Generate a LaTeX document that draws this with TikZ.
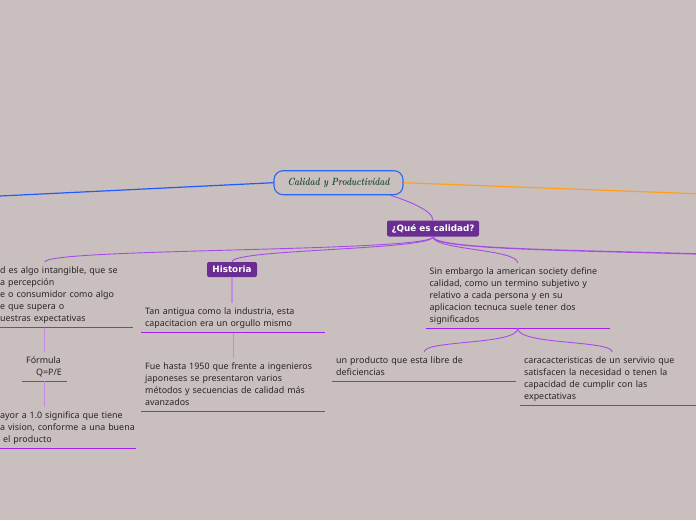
\documentclass[tikz,border=0pt]{standalone}
\usepackage{fontspec}
\setmainfont{Noto Sans}
\newfontfamily\rootfont{Latin Modern Roman}
\newfontfamily\tagfont{DejaVu Sans}
\definecolor{bgc}{HTML}{C9BFBF}
\definecolor{qpurple}{HTML}{6A2D91}
\definecolor{brc}{HTML}{A64CE6}
\definecolor{ulc}{HTML}{A020F0}
\definecolor{vtc}{HTML}{C48AE4}
\definecolor{rootblue}{HTML}{2A66F0}
\definecolor{bluel}{HTML}{1F5BFF}
\definecolor{orl}{HTML}{FF9F1A}
\definecolor{rtxt}{HTML}{1F4A2F}
\definecolor{txtc}{HTML}{2A2626}
\tikzset{
  txt/.style={anchor=north west, align=left, inner xsep=4pt, inner ysep=2.5pt,
    font=\fontsize{8.9}{12}\selectfont, text=txtc,
    execute at begin node=\strut, execute at end node=\strut},
  tag/.style={fill=qpurple, rounded corners=2pt, text=white, inner sep=0pt,
    font=\tagfont\fontsize{8.8}{10}\selectfont\bfseries},
  rootbox/.style={draw=rootblue, line width=1.1pt, rounded corners=9pt, inner sep=0pt,
    minimum width=129pt, minimum height=24pt, text=rtxt,
    font=\rootfont\fontsize{10.5}{12}\selectfont\bfseries\itshape},
  brl/.style={draw=brc, line width=0.9pt},
  vtl/.style={draw=vtc, line width=1.3pt},
  ull/.style={draw=ulc, line width=1.6pt},
}
\begin{document}
\begin{tikzpicture}[x=1pt,y=-1pt]
\fill[bgc] (0,0) rectangle (696,520);
\useasboundingbox (0,0) rectangle (696,520);

% nodes
\node[rootbox] (root) at (338.5,182.7) {\scalebox{0.8}[1]{Calidad y Productividad}};
\node[tag, minimum width=92pt, minimum height=16pt] (Q) at (433,228.5) {¿Qué es calidad?};
\node[tag, minimum width=50pt, minimum height=15pt] (H) at (232,269.5) {Historia};

\node[txt, text width=129pt] (L1) at (-4,262.1) {d es algo intangible, que se\\a percepción\\e o consumidor como algo\\e que supera o\\uestras expectativas};
\node[txt, text width=37pt] (F) at (22,352) {Fórmula\\\hspace*{10pt}Q=P/E};
\node[txt, text width=132pt] (L3) at (-4,407) {\mbox{ayor a 1.0 significa que tiene}\\\mbox{a vision, conforme a una buena}\\\hspace*{3pt}el producto};

\node[txt, text width=176pt] (T1) at (141,303.1) {Tan antigua como la industria, esta\\capacitacion era un orgullo mismo};
\node[txt, text width=176pt] (T2) at (141,358.1) {Fue hasta 1950 que frente a ingenieros\\japoneses se presentaron varios\\métodos y secuencias de calidad más\\avanzados};

\node[txt, text width=176pt] (S) at (425.5,263) {Sin embargo la american society define\\calidad, como un termino subjetivo y\\relativo a cada persona y en su\\aplicacion tecnuca suele tener dos\\significados};
\node[txt, text width=176pt] (U1) at (332,352) {un producto que esta libre de\\deficiencias};
\node[txt, text width=176pt] (U2) at (520,352) {caracacteristicas de un servivio que\\satisfacen la necesidad o tenen la\\capacidad de cumplir con las\\expectativas};

% free ends
\coordinate (lb) at (-2,196.1);
\coordinate (rb) at (698,193.8);
\coordinate (rr) at (700,254);

% underlines
\foreach \n in {L1,F,L3,T1,T2,S,U1,U2}
  \draw[ull] (\n.south west) -- (\n.south east);

% main branches
\draw[draw=bluel, line width=1.2pt] (root.west) -- (lb);
\draw[draw=orl, line width=1.2pt] (root.east) -- (rb);
\draw[brl] ([xshift=52pt]root.south) .. controls (405,200) and (433,210) .. (Q.north);

% from Que es calidad
\draw[brl] (Q.south) .. controls (433,252) and (44.5,248) .. (F.north |- L1.north);
\draw[brl] (Q.south) .. controls (433,250) and (232,249) .. (H.north);
\draw[brl] (Q.south) .. controls (433,250) and (517.5,249) .. (S.north);
\draw[brl, line width=1.4pt] (Q.south) .. controls (433,249) and (560,250) .. (rr);

% vertical connectors
\draw[vtl] (H.south) -- (H.south |- T1.north);
\draw[vtl] (T1.south) -- (T2.north);
\draw[vtl] (F.north |- L1.south) -- (F.north);
\draw[vtl] (F.south) -- (F.south |- L3.north);

% from S
\draw[brl] (S.south) .. controls (517.5,345) and (424,340) .. (U1.north);
\draw[brl] (S.south) .. controls (517.5,345) and (612,340) .. (U2.north);
\end{tikzpicture}
\end{document}
